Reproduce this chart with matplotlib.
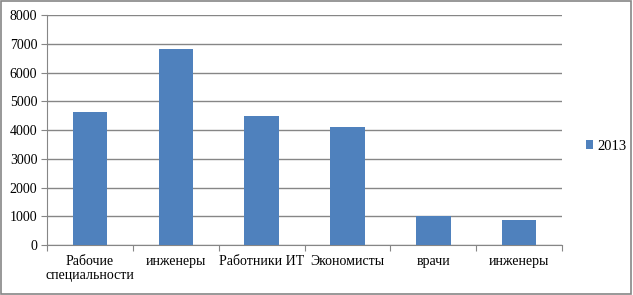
import matplotlib.pyplot as plt
import numpy as np
from matplotlib.patches import Rectangle

categories = ["Рабочие\nспециальности", "инженеры", "Работники ИТ", "Экономисты", "врачи", "инженеры"]
values_2013 = [4640, 6830, 4480, 4100, 1000, 860]
series_name = "2013"
y_ticks = [0, 1000, 2000, 3000, 4000, 5000, 6000, 7000, 8000]

plt.rcParams['font.family'] = ['Liberation Serif', 'DejaVu Serif']

fig = plt.figure(figsize=(6.33, 2.95), dpi=100)
ax = fig.add_axes([0.0743, 0.1695, 0.8137, 0.7795])

bar_color = "#4f81bd"
grid_color = "#868686"

x = np.arange(len(categories))
ax.bar(x, values_2013, width=0.4, color=bar_color, label=series_name, zorder=3)

ax.set_xlim(-0.5, len(categories) - 0.5)
ax.set_ylim(0, 8000)
ax.set_yticks(y_ticks)
ax.set_yticklabels([str(v) for v in y_ticks], fontsize=10)
ax.yaxis.grid(True, color=grid_color, linewidth=1, zorder=0)

# category labels at centres, tick marks at boundaries
ax.set_xticks(np.arange(-0.5, len(categories), 1.0))
ax.set_xticklabels([])
ax.set_xticks(x, minor=True)
ax.set_xticklabels(categories, minor=True, fontsize=10, linespacing=1.1)
ax.tick_params(axis='x', which='minor', length=0, pad=7)
ax.tick_params(axis='x', which='major', length=4, color=grid_color, direction='out')
ax.tick_params(axis='y', length=4, color=grid_color, direction='out', pad=3)

for side in ["top", "right"]:
    ax.spines[side].set_visible(False)
ax.spines["left"].set_color(grid_color)
ax.spines["bottom"].set_color(grid_color)

ax.legend(loc="center left", bbox_to_anchor=(1.02, 0.43), frameon=False,
          fontsize=10.5, handlelength=0.5, handleheight=0.5, handletextpad=0.3)

fig.patches.append(Rectangle((0.002, 0.004), 0.995, 0.991, transform=fig.transFigure,
                             fill=False, edgecolor=grid_color, linewidth=1.2))

fig.savefig("out.png", dpi=100)
